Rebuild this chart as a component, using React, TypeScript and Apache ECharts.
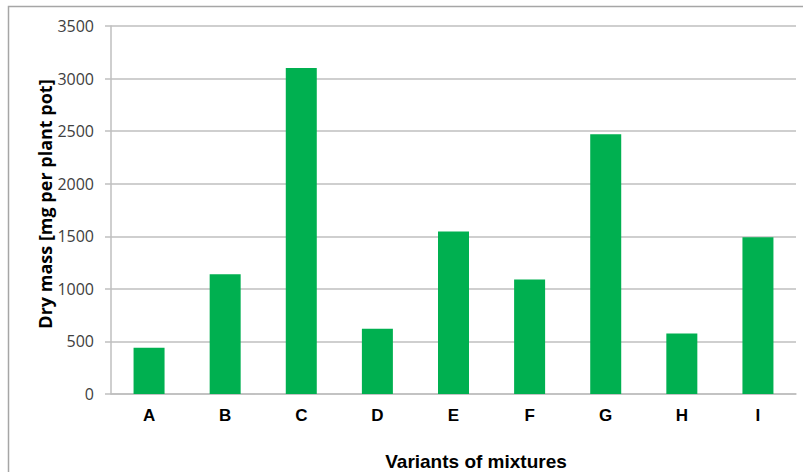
import React, { useEffect, useRef } from "react";
import * as echarts from "echarts";

const categories = ["A", "B", "C", "D", "E", "F", "G", "H", "I"];
const dryMass = [440, 1140, 3100, 620, 1545, 1090, 2470, 575, 1490];
const yAxisTitle = "Dry mass [mg per plant pot]";
const xAxisTitle = "Variants of mixtures";

export default function App() {
  const ref = useRef<HTMLDivElement>(null);
  useEffect(() => {
    if (!ref.current) return;
    const chart = echarts.init(ref.current, undefined, { renderer: "svg" });
    chart.setOption({
      animation: false,
      backgroundColor: "#ffffff",
      grid: { left: 111, right: 7, top: 26, bottom: 78, containLabel: false },
      graphic: [
        {
          type: "rect",
          silent: true,
          shape: { x: 8.5, y: 6.5, width: 1000, height: 1000 },
          style: { fill: "none", stroke: "#a6a6a6", lineWidth: 1.5 },
          z: -1,
        },
        {
          type: "text",
          x: 45,
          y: 204,
          rotation: Math.PI / 2,
          style: {
            text: yAxisTitle,
            fontFamily: "Open Sans",
            fontWeight: "bold",
            fontSize: 18,
            fill: "#000000",
            align: "center",
            verticalAlign: "middle",
          },
        },
        {
          type: "text",
          x: 476,
          y: 461,
          style: {
            text: xAxisTitle,
            fontFamily: "Liberation Sans",
            fontWeight: "bold",
            fontSize: 19,
            fill: "#000000",
            align: "center",
            verticalAlign: "middle",
          },
        },
      ],
      xAxis: {
        type: "category",
        data: categories,
        axisLine: { show: true, lineStyle: { color: "#bfbfbf", width: 1.5 } },
        axisTick: { show: false },
        axisLabel: {
          margin: 13,
          fontFamily: "Liberation Sans",
          fontWeight: "bold",
          fontSize: 17,
          color: "#000000",
        },
      },
      yAxis: {
        type: "value",
        min: 0,
        max: 3500,
        interval: 500,
        axisLine: { show: true, lineStyle: { color: "#bfbfbf", width: 1.5 } },
        axisTick: { show: true, length: 6, lineStyle: { color: "#bfbfbf", width: 1.5 } },
        splitLine: { show: true, lineStyle: { color: "#bfbfbf", width: 1.5 } },
        axisLabel: {
          margin: 17,
          fontFamily: "Open Sans",
          fontSize: 16,
          color: "#404040",
          formatter: (v: number) => String(v),
        },
      },
      series: [
        {
          type: "bar",
          data: dryMass,
          barWidth: 31,
          itemStyle: { color: "#00b050" },
        },
      ],
    });
    return () => chart.dispose();
  }, []);
  return (
    <div
      ref={ref}
      style={{ position: "fixed", left: 0, top: 0, width: 803, height: 472 }}
    />
  );
}
